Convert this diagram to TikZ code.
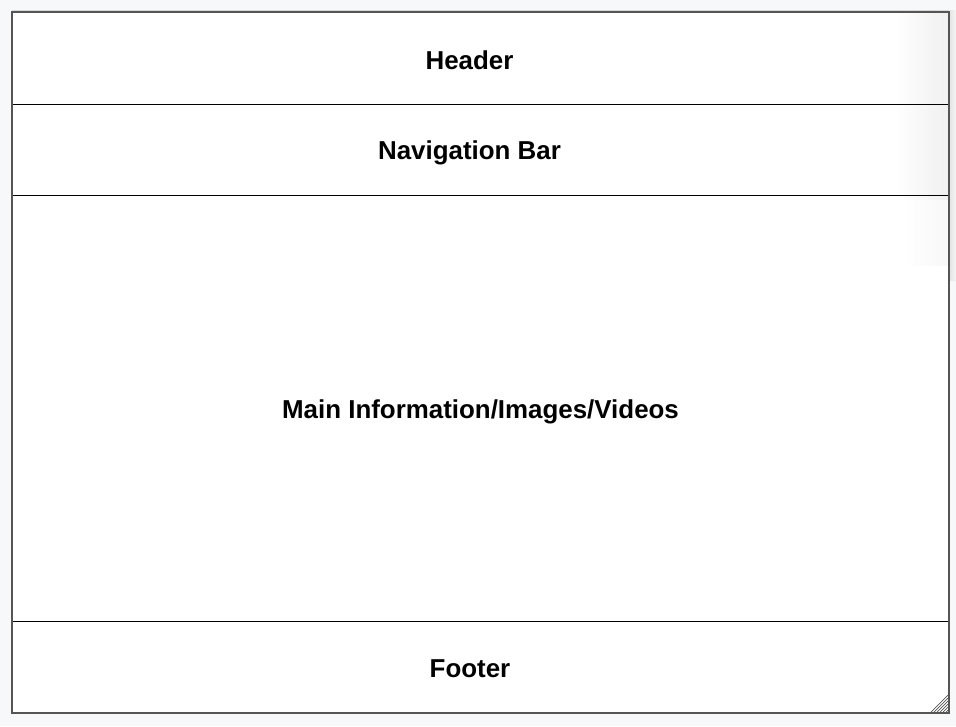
\documentclass[tikz,border=0pt]{standalone}
\usepackage{fontspec}
\setmainfont{Liberation Sans}
\definecolor{bg}{HTML}{F7F8FA}
\definecolor{frame}{HTML}{555555}
\tikzset{
  label/.style={font=\fontsize{25.9}{30}\selectfont\bfseries, text=black, inner sep=0pt, anchor=base},
  sep/.style={draw=black, line width=1pt},
  grip/.style={draw=frame, line width=0.7pt}
}
\begin{document}
\begin{tikzpicture}[x=1pt,y=-1pt]
\fill[bg] (0,0) rectangle (956,726);
\useasboundingbox (0,0) rectangle (956,726);
% window edge
\draw[gray!30, line width=1pt] (12,10.5) -- (949,10.5);
\fill[left color=gray!20, right color=gray!8] (950,10) rectangle (956,280);
% box
\fill[white] (12,12) rectangle (949,713);
\fill[left color=white, right color=black!6] (895,13) rectangle (948,200);
\fill[left color=white, right color=black!3] (905,200) rectangle (948,265);
\coordinate (tl) at (12,12);
\coordinate (br) at (949,713);
\coordinate (l1) at (12,104); \coordinate (r1) at (949,104);
\coordinate (l2) at (12,195); \coordinate (r2) at (949,195);
\coordinate (l3) at (12,621); \coordinate (r3) at (949,621);
\draw[sep] (l1) -- (r1);
\draw[sep] (l2) -- (r2);
\draw[sep] (l3) -- (r3);
\draw[frame, line width=1.5pt] (tl) rectangle (br);
% grip
\foreach \d in {3,6,...,18}{
  \draw[grip] (949-\d,712) -- (948,713-\d);
}
\node[label] (header) at (469.5,69) {Header};
\node[label] (nav) at (469.5,159) {Navigation Bar};
\node[label] (main) at (480.5,418) {Main Information/Images/Videos};
\node[label] (footer) at (470,677) {Footer};
\end{tikzpicture}
\end{document}
